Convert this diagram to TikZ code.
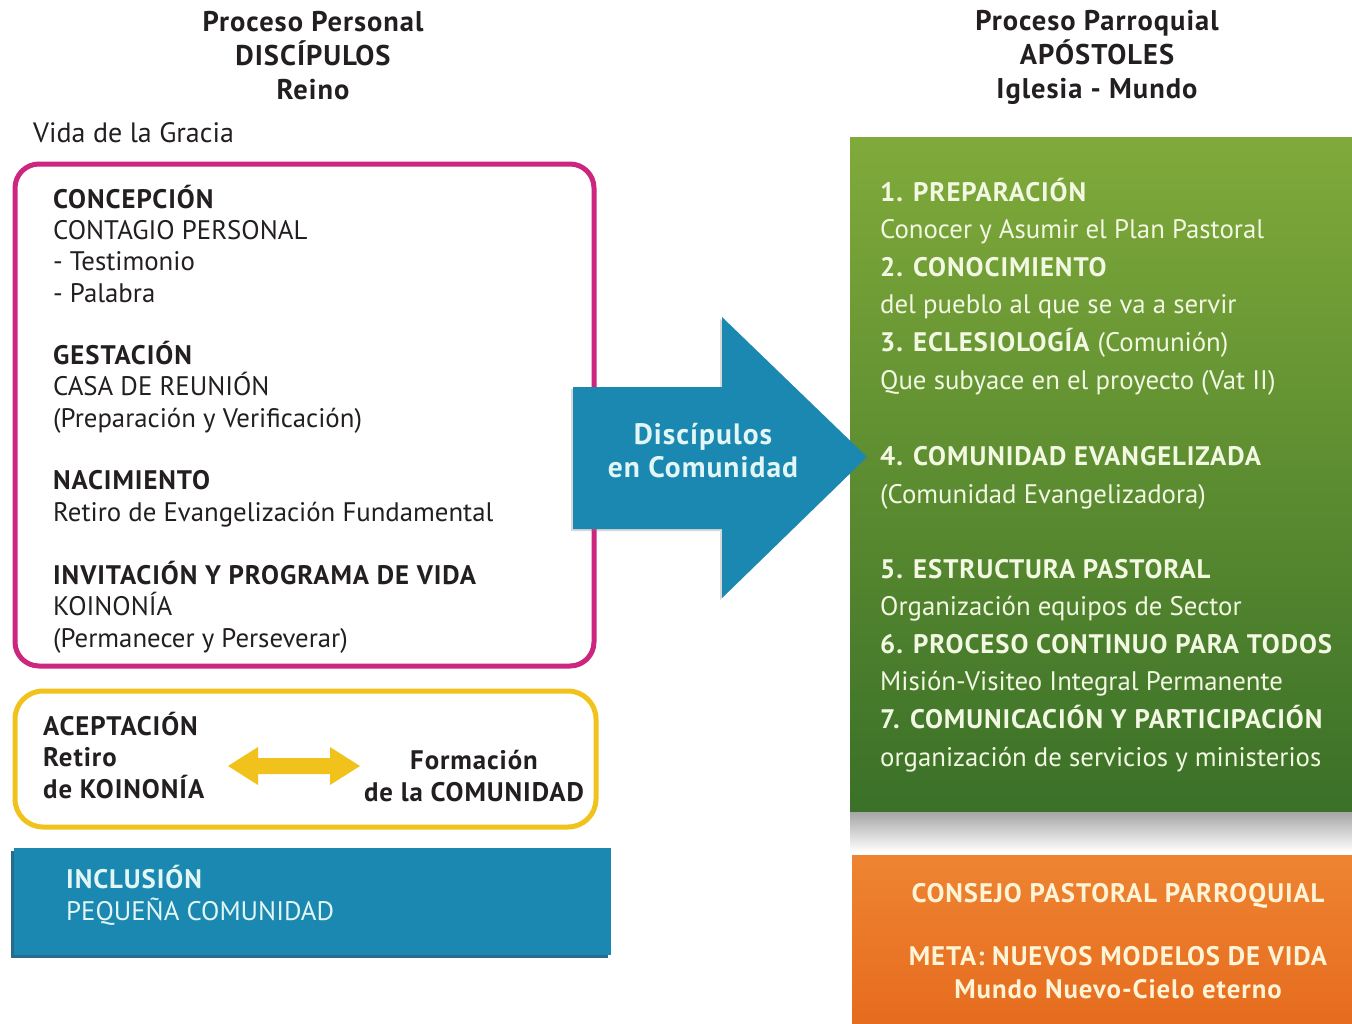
\documentclass[tikz,border=0pt]{standalone}
\usepackage{fontspec}
\setmainfont{PT Sans}[BoldFeatures={LetterSpace=3.5}]
\usetikzlibrary{shapes,arrows,positioning,calc,shadows}

\definecolor{inkgray}{RGB}{35,31,32}
\definecolor{procmagenta}{RGB}{204,38,126}
\definecolor{procgold}{RGB}{242,194,28}
\definecolor{procteal}{RGB}{26,136,176}
\definecolor{tealshade}{RGB}{18,92,128}
\definecolor{greenhigh}{RGB}{128,170,58}
\definecolor{greenlow}{RGB}{58,112,40}
\definecolor{orangehigh}{RGB}{238,132,50}
\definecolor{orangelow}{RGB}{230,108,30}
\definecolor{palecyan}{RGB}{226,246,246}
\definecolor{palegreen}{RGB}{242,248,226}
\definecolor{palecream}{RGB}{255,244,214}

\tikzset{
  body/.style={font=\fontsize{26.8}{31.3}\selectfont, inner sep=0pt, align=left, anchor=base west, text=inkgray},
  heading/.style={font=\fontsize{28.5}{34}\selectfont\bfseries, inner sep=0pt, align=center, anchor=base, text=inkgray},
  greenline/.style={font=\fontsize{26.8}{37.6}\selectfont, inner sep=0pt, align=left, anchor=base west, text=palegreen},
  panel/.style={rectangle, inner sep=0pt, minimum width=#1},
}

\begin{document}
\begin{tikzpicture}[x=1pt,y=-1pt]
    \useasboundingbox [fill=white] (0,0) rectangle (1352,1023);

    \node (personal) [heading] at (313,99) {Proceso Personal\\DISCÍPULOS\\Reino};
    \node (parroquial) [heading] at (1097,98) {Proceso Parroquial\\APÓSTOLES\\Iglesia - Mundo};
    \node (gracia) [body, font=\fontsize{28}{31.3}\selectfont] at (33,142) {Vida de la Gracia};

    \node (vida) [panel=579, minimum height=502, draw=procmagenta, line width=5pt, rounded corners=24pt] at (304.5,415) {};
    \node (concepcion) [body] at (53,302) {\textbf{CONCEPCIÓN}\\CONTAGIO PERSONAL\\- Testimonio\\- Palabra};
    \node (gestacion) [body] at (53,427) {\textbf{GESTACIÓN}\\CASA DE REUNIÓN\\(Preparación y Verificación)};
    \node (nacimiento) [body] at (53,521) {\textbf{NACIMIENTO}\\Retiro de Evangelización Fundamental};
    \node (invitacion) [body] at (53,647) {\textbf{INVITACIÓN Y PROGRAMA DE VIDA}\\KOINONÍA\\(Permanecer y Perseverar)};

    \node (aceptacion) [panel=581, minimum height=136, draw=procgold, line width=5pt, rounded corners=28pt] at (305.5,759) {};
    \node (retiro) [body, font=\fontsize{26.8}{31.3}\selectfont\bfseries] at (43,798) {ACEPTACIÓN\\Retiro\\de KOINONÍA};
    \node (formacion) [body, font=\fontsize{26.8}{31.3}\selectfont\bfseries, align=center, anchor=base] at (474,801) {Formación\\de la COMUNIDAD};
    \fill [procgold] (228,766) -- (258,747) -- (258,758) -- (330,758) -- (330,747) -- (360,766)
        -- (330,785) -- (330,774) -- (258,774) -- (258,785) -- cycle;

    \node (inclusion) [panel=597, minimum height=107, fill=procteal,
        drop shadow={shadow xshift=-3pt, shadow yshift=-3pt, fill=tealshade, opacity=0.9}] at (312.5,901.5) {};
    \node (pequena) [body, text=palecyan] at (66,920) {\textbf{INCLUSIÓN}\\PEQUEÑA COMUNIDAD};

    \node (pastoral) [panel=502, minimum height=675, top color=greenhigh, bottom color=greenlow] at (1101,474.5) {};
    \shade [top color=black!35, bottom color=white] (850,812) rectangle (1352,852);
    \node (pasos) [greenline] at (880,389) {\textbf{1. PREPARACIÓN}\\Conocer y Asumir el Plan Pastoral\\\textbf{2. CONOCIMIENTO}\\del pueblo al que se va a servir\\\textbf{3. ECLESIOLOGÍA} (Comunión)\\Que subyace en el proyecto (Vat II)};
    \node (comunidad) [greenline] at (880,503) {\textbf{4. COMUNIDAD EVANGELIZADA}\\(Comunidad Evangelizadora)};
    \node (estructura) [greenline] at (880,766) {\textbf{5. ESTRUCTURA PASTORAL}\\Organización equipos de Sector\\\textbf{6. PROCESO CONTINUO PARA TODOS}\\Misión-Visiteo Integral Permanente\\\textbf{7. COMUNICACIÓN Y PARTICIPACIÓN}\\organización de servicios y ministerios};

    \node (consejo) [panel=500, minimum height=168, top color=orangehigh, bottom color=orangelow] at (1102,939) {};
    \node (consejotxt) [heading, text=palecream, font=\fontsize{26.8}{33}\selectfont\bfseries] at (1118,902) {CONSEJO PASTORAL PARROQUIAL};
    \node (meta) [heading, text=palecream, font=\fontsize{26.8}{33}\selectfont\bfseries] at (1118,998) {META: NUEVOS MODELOS DE VIDA\\Mundo Nuevo-Cielo eterno};

    \fill [procteal, drop shadow={shadow xshift=-2pt, shadow yshift=-2pt, opacity=0.3}]
        (573,387) -- (722,387) -- (722,317) -- (867,457) -- (722,598) -- (722,529) -- (573,529) -- cycle;
    \node (discipulos) [heading, text=palecyan, font=\fontsize{29.5}{33}\selectfont\bfseries] at (703,477) {Discípulos\\en Comunidad};
\end{tikzpicture}
\end{document}
